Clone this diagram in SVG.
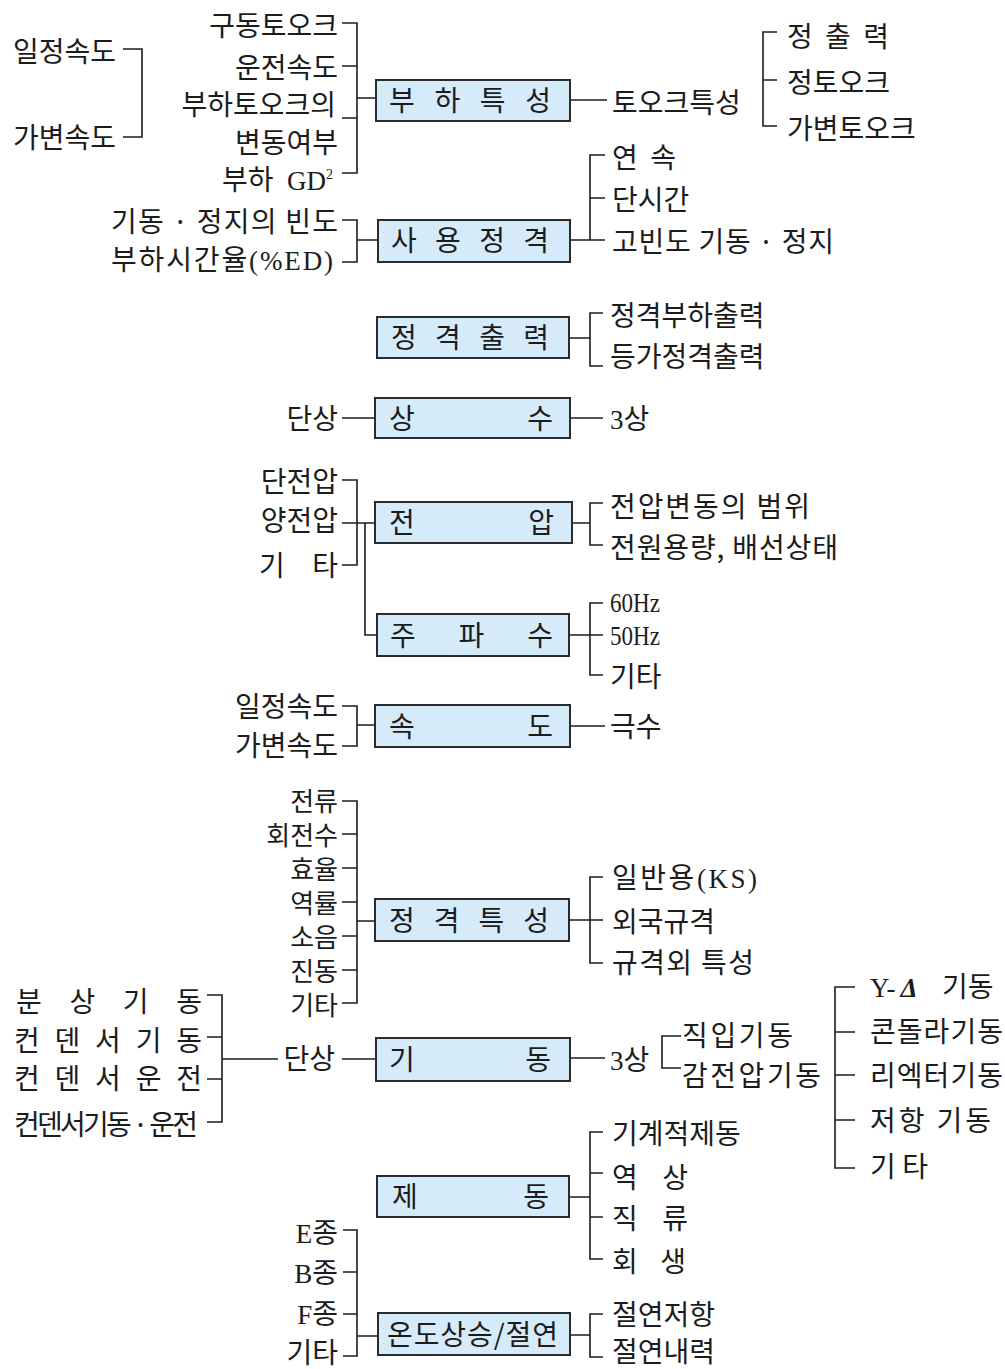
<svg xmlns="http://www.w3.org/2000/svg" width="1005" height="1369" viewBox="0 0 1005 1369">
<style>
  text { font-family: "Noto Sans CJK KR", "Noto Sans", sans-serif; font-size: 28px; fill: #1c1c1c; }
  .e { text-anchor: end; }
  .t { font-size: 26px; }
  .l { font-family: "Liberation Serif", serif; font-size: 27px; }
  .sup { font-size: 14px; }
  .box rect { fill: #d6ebfa; stroke: #2b2b2b; stroke-width: 2; }
  #connectors path { fill: none; stroke: #1c1c1c; stroke-width: 1.6; }
</style>
<rect width="1005" height="1369" fill="#ffffff"/>

<!-- connector lines and brackets -->
<g id="connectors">
  <!-- standalone speed bracket, top left -->
  <path d="M123,49 H142 V137 H123"/>
  <!-- load characteristics -->
  <path d="M342,23 H357 V173 H342 M342,66 H357 M342,118 H357 M357,98 H376"/>
  <path d="M570,100 H607"/>
  <path d="M777,32 H763 V126 H777 M763,80 H777"/>
  <!-- duty rating -->
  <path d="M342,220 H357 V262 H342 M357,240 H378"/>
  <path d="M570,240 H605 M605,155 H590 V240 M590,198 H605"/>
  <!-- rated output -->
  <path d="M569,338 H590 M603,313 H590 V366 H603"/>
  <!-- phase -->
  <path d="M342,418 H375 M570,418 H603"/>
  <!-- voltage / frequency -->
  <path d="M342,480 H357 V565 H342 M342,523 H375 M365,523 V635 H377"/>
  <path d="M572,523 H590 M603,503 H590 V545 H603"/>
  <path d="M569,635 H603 M603,603 H590 V675 H603"/>
  <!-- speed -->
  <path d="M342,706 H357 V746 H342 M357,725 H375 M570,726 H605"/>
  <!-- rated characteristics -->
  <path d="M342,801 H357 V1003 H342 M342,834 H357 M342,868 H357 M342,902 H357 M342,936 H357 M342,970 H357 M357,921 H375"/>
  <path d="M569,920 H590 M603,877 H590 V963 H603 M590,920 H603"/>
  <!-- starting -->
  <path d="M207,995 H222 V1122 H207 M207,1037 H222 M207,1079 H222 M222,1059 H278 M342,1059 H376"/>
  <path d="M570,1058 H605 M681,1036 H662 V1068 H681"/>
  <path d="M855,987 H835 V1168 H855 M835,1032 H855 M835,1075 H855 M835,1120 H855"/>
  <!-- braking -->
  <path d="M569,1197 H590 M603,1132 H590 V1259 H603 M590,1173 H603 M590,1217 H603"/>
  <!-- temperature rise / insulation -->
  <path d="M343,1230 H357 V1356 H343 M343,1272 H357 M343,1314 H357 M357,1336 H378"/>
  <path d="M570,1335 H590 M603,1314 H590 V1357 H603"/>
</g>

<!-- main boxes -->
<g id="box-load" class="box"><rect x="376" y="80" width="194" height="41"/><text x="389" y="111" textLength="162">부 하 특 성</text></g>
<g id="box-duty" class="box"><rect x="378" y="220" width="192" height="42"/><text x="391" y="251" textLength="158">사 용 정 격</text></g>
<g id="box-output" class="box"><rect x="377" y="317" width="192" height="41"/><text x="391" y="348" textLength="158">정 격 출 력</text></g>
<g id="box-phase" class="box"><rect x="375" y="398" width="195" height="40"/><text x="389" y="429" textLength="164">상 수</text></g>
<g id="box-voltage" class="box"><rect x="375" y="502" width="197" height="41"/><text x="389" y="533" textLength="165">전 압</text></g>
<g id="box-frequency" class="box"><rect x="377" y="614" width="192" height="42"/><text x="390" y="646" textLength="163">주 파 수</text></g>
<g id="box-speed" class="box"><rect x="375" y="705" width="195" height="42"/><text x="389" y="737" textLength="164">속 도</text></g>
<g id="box-rated-char" class="box"><rect x="375" y="899" width="194" height="42"/><text x="389" y="931" textLength="160">정 격 특 성</text></g>
<g id="box-starting" class="box"><rect x="376" y="1038" width="194" height="43"/><text x="389" y="1070" textLength="162">기 동</text></g>
<g id="box-braking" class="box"><rect x="377" y="1176" width="192" height="41"/><text x="392" y="1207" textLength="157">제 동</text></g>
<g id="box-insulation" class="box"><rect x="378" y="1313" width="192" height="42"/><text x="387" y="1345" textLength="171">온도상승/절연</text></g>

<!-- speed pair, top left -->
<g id="n-const-speed-1"><text class="e" x="116" y="62">일정속도</text></g>
<g id="n-var-speed-1"><text class="e" x="116" y="148">가변속도</text></g>

<!-- load characteristic inputs -->
<g id="n-drive-torque"><text class="e" x="338" y="36">구동토오크</text></g>
<g id="n-run-speed"><text class="e" x="338" y="78">운전속도</text></g>
<g id="n-torque-var"><text class="e" x="336" y="115">부하토오크의</text><text class="e" x="338" y="153">변동여부</text></g>
<g id="n-gd2"><text y="190"><tspan x="222">부하</tspan><tspan class="l" x="287">GD</tspan><tspan class="l sup" dy="-11">2</tspan></text></g>
<g id="n-torque-char"><text x="612" y="113">토오크특성</text></g>
<g id="n-const-output"><text x="787" y="47" textLength="102">정 출 력</text></g>
<g id="n-const-torque"><text x="787" y="93">정토오크</text></g>
<g id="n-var-torque"><text x="787" y="139">가변토오크</text></g>

<!-- duty rating -->
<g id="n-start-freq"><text x="111" y="232" textLength="227">기동 · 정지의 빈도</text></g>
<g id="n-ed"><text x="111" y="270" textLength="222">부하시간율<tspan class="l">(%ED)</tspan></text></g>
<g id="n-continuous"><text x="612" y="168" textLength="64">연 속</text></g>
<g id="n-short-time"><text x="612" y="210">단시간</text></g>
<g id="n-frequent"><text x="612" y="252" textLength="222">고빈도 기동 · 정지</text></g>

<!-- rated output -->
<g id="n-rated-load-out"><text x="610" y="326">정격부하출력</text></g>
<g id="n-equiv-out"><text x="610" y="367">등가정격출력</text></g>

<!-- phase -->
<g id="n-single-phase"><text class="e" x="338" y="429">단상</text></g>
<g id="n-three-phase"><text x="610" y="429"><tspan class="l">3</tspan>상</text></g>

<!-- voltage -->
<g id="n-single-v"><text class="e" x="338" y="492">단전압</text></g>
<g id="n-dual-v"><text class="e" x="338" y="531">양전압</text></g>
<g id="n-other-v"><text x="259" y="576" textLength="79">기 타</text></g>
<g id="n-v-range"><text x="610" y="517" textLength="200">전압변동의 범위</text></g>
<g id="n-supply"><text x="610" y="558" textLength="228">전원용량, 배선상태</text></g>

<!-- frequency -->
<g id="n-60hz"><text class="l" x="610" y="612" textLength="50" lengthAdjust="spacingAndGlyphs">60Hz</text></g>
<g id="n-50hz"><text class="l" x="610" y="645" textLength="50" lengthAdjust="spacingAndGlyphs">50Hz</text></g>
<g id="n-other-f"><text x="610" y="687">기타</text></g>

<!-- speed -->
<g id="n-const-speed"><text class="e" x="338" y="717">일정속도</text></g>
<g id="n-var-speed"><text class="e" x="338" y="756">가변속도</text></g>
<g id="n-poles"><text x="610" y="737">극수</text></g>

<!-- rated characteristics (tightly stacked list, 34px pitch) -->
<g id="n-current"><text class="e t" x="338" y="811">전류</text></g>
<g id="n-rpm"><text class="e t" x="338" y="845">회전수</text></g>
<g id="n-efficiency"><text class="e t" x="338" y="879">효율</text></g>
<g id="n-pf"><text class="e t" x="338" y="913">역률</text></g>
<g id="n-noise"><text class="e t" x="338" y="947">소음</text></g>
<g id="n-vibration"><text class="e t" x="338" y="981">진동</text></g>
<g id="n-other-c"><text class="e t" x="338" y="1015">기타</text></g>
<g id="n-ks"><text x="612" y="888" textLength="145">일반용<tspan class="l">(KS)</tspan></text></g>
<g id="n-foreign"><text x="612" y="932">외국규격</text></g>
<g id="n-nonstd"><text x="612" y="973" textLength="142">규격외 특성</text></g>

<!-- starting -->
<g id="n-split"><text x="16" y="1012" textLength="186">분 상 기 동</text></g>
<g id="n-cap-start"><text x="14" y="1051" textLength="188">컨 덴 서 기 동</text></g>
<g id="n-cap-run"><text x="14" y="1089" textLength="188">컨 덴 서 운 전</text></g>
<g id="n-cap-start-run"><text x="14" y="1135" textLength="184">컨덴서기동 · 운전</text></g>
<g id="n-single-start"><text class="e" x="335" y="1069">단상</text></g>
<g id="n-three-start"><text x="610" y="1070"><tspan class="l">3</tspan>상</text></g>
<g id="n-dol"><text x="682" y="1046" textLength="111">직입기동</text></g>
<g id="n-reduced-v"><text x="682" y="1086" textLength="139">감전압기동</text></g>
<g id="n-star-delta"><text y="997"><tspan class="l" x="870">Y-</tspan><tspan class="l" font-style="italic" font-weight="bold" dx="5">Δ</tspan><tspan x="942">기동</tspan></text></g>
<g id="n-korndorfer"><text x="870" y="1042" textLength="133">콘돌라기동</text></g>
<g id="n-reactor"><text x="870" y="1086" textLength="133">리엑터기동</text></g>
<g id="n-resistor"><text x="870" y="1131" textLength="121">저항 기동</text></g>
<g id="n-other-s"><text x="870" y="1177" textLength="58">기 타</text></g>

<!-- braking -->
<g id="n-mech-brake"><text x="612" y="1144">기계적제동</text></g>
<g id="n-plugging"><text x="612" y="1188" textLength="76">역 상</text></g>
<g id="n-dc-brake"><text x="612" y="1229" textLength="76">직 류</text></g>
<g id="n-regen"><text x="612" y="1272" textLength="74">회 생</text></g>

<!-- insulation class -->
<g id="n-class-e"><text class="e" x="338" y="1243"><tspan class="l">E</tspan>종</text></g>
<g id="n-class-b"><text class="e" x="338" y="1283"><tspan class="l">B</tspan>종</text></g>
<g id="n-class-f"><text class="e" x="338" y="1324"><tspan class="l">F</tspan>종</text></g>
<g id="n-class-other"><text class="e" x="338" y="1363">기타</text></g>
<g id="n-ins-res"><text x="612" y="1325">절연저항</text></g>
<g id="n-ins-str"><text x="612" y="1362">절연내력</text></g>
</svg>
